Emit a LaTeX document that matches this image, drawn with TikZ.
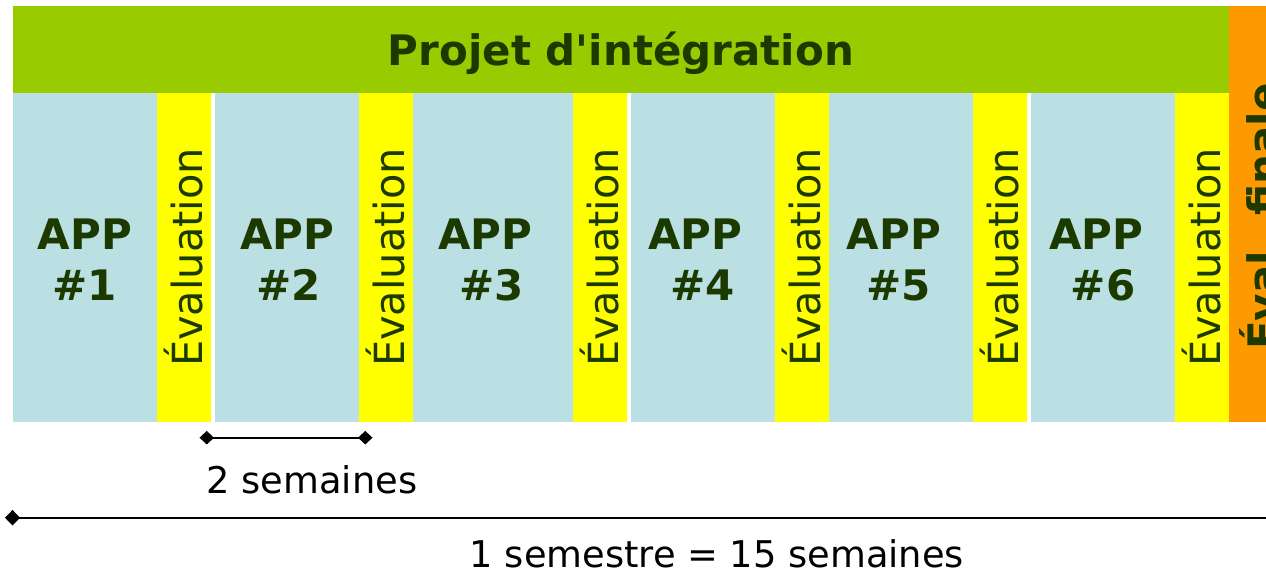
\documentclass[tikz,border=0pt]{standalone}
\usepackage{fontspec}
\setmainfont{DejaVu Sans}
\usetikzlibrary{arrows.meta}
\definecolor{bandgreen}{HTML}{99CC00}
\definecolor{appblue}{HTML}{BBE0E3}
\definecolor{evyellow}{HTML}{FFFF00}
\definecolor{finorange}{HTML}{FF9900}
\definecolor{darkgreentext}{HTML}{1C3A00}
\tikzset{
  block/.style={inner sep=0pt, outer sep=0pt, draw=none},
  appcol/.style={block, fill=appblue, minimum width=#1, minimum height=329pt},
  evcol/.style={block, fill=evyellow, minimum width=54pt, minimum height=329pt},
  apptext/.style={inner sep=0pt, text=darkgreentext, font=\fontsize{42}{50}\selectfont\bfseries},
  evtext/.style={inner sep=0pt, anchor=base, rotate=90, text=darkgreentext, font=\fontsize{41.5}{50}\selectfont},
  finaltext/.style={inner sep=0pt, anchor=base, rotate=90, text=darkgreentext, font=\fontsize{42}{50}\selectfont\bfseries},
  captext/.style={inner sep=0pt, anchor=base, text=black, font=\fontsize{36.8}{44}\selectfont},
  spanline/.style={line width=2.4pt, black},
  dia/.style={Diamond[length=15pt, width=14pt]}
}
\begin{document}
\begin{tikzpicture}[x=1pt,y=-1pt]
\useasboundingbox (0,0) rectangle (1266,578);
\clip (0,0) rectangle (1266,578);
\fill[white] (0,0) rectangle (1266,578);

% top band and final column
\node[block, fill=bandgreen, minimum width=1216pt, minimum height=87pt] (band) at (621,49.5) {};
\node[block, fill=finorange, minimum width=91pt, minimum height=416pt] (final) at (1274.5,214) {};

% columns
\node[appcol=144pt] (app1) at (85,257.5) {};
\node[evcol] (ev1) at (184,257.5) {};
\node[appcol=144pt] (app2) at (287,257.5) {};
\node[evcol] (ev2) at (386,257.5) {};
\node[appcol=160pt] (app3) at (493,257.5) {};
\node[evcol] (ev3) at (600,257.5) {};
\node[appcol=144pt] (app4) at (703,257.5) {};
\node[evcol] (ev4) at (802,257.5) {};
\node[appcol=144pt] (app5) at (901,257.5) {};
\node[evcol] (ev5) at (1000,257.5) {};
\node[appcol=144pt] (app6) at (1103,257.5) {};
\node[evcol] (ev6) at (1202,257.5) {};

% texts
\node[apptext, anchor=base] (title) at (621,66) {Projet d\textquotesingle intégration};

\node[apptext] (app1a) at (85,234) {APP};
\node[apptext] (app1b) at (84.5,285) {\#1};
\node[apptext] (app2a) at (287.5,234) {APP};
\node[apptext] (app2b) at (289,285) {\#2};
\node[apptext] (app3a) at (485.5,234) {APP};
\node[apptext] (app3b) at (492,285) {\#3};
\node[apptext] (app4a) at (695.5,234) {APP};
\node[apptext] (app4b) at (703,285) {\#4};
\node[apptext] (app5a) at (894,234) {APP};
\node[apptext] (app5b) at (899,285) {\#5};
\node[apptext] (app6a) at (1096.5,234) {APP};
\node[apptext] (app6b) at (1103,285) {\#6};

\node[evtext] (ev1t) at (202.5,257.5) {Évaluation};
\node[evtext] (ev2t) at (404.5,257.5) {Évaluation};
\node[evtext] (ev3t) at (618.5,257.5) {Évaluation};
\node[evtext] (ev4t) at (820.5,257.5) {Évaluation};
\node[evtext] (ev5t) at (1018.5,257.5) {Évaluation};
\node[evtext] (ev6t) at (1220.5,257.5) {Évaluation};

\node[finaltext] (finalt) at (1278,216.5) {Éval. finale};

% two-week span
\coordinate (twoA) at (199.5,437.7);
\coordinate (twoB) at (372.5,437.7);
\draw[spanline, {Diamond[length=14.5pt, width=13.5pt]}-{Diamond[length=14.5pt, width=13.5pt]}] (twoA) -- (twoB);
\node[captext] (twolbl) at (312,493) {2 semaines};

% semester span
\coordinate (semA) at (5,517.7);
\coordinate (semB) at (1300,517.7);
\draw[spanline, {Diamond[length=15pt, width=15.5pt]}-] (semA) -- (semB);
\node[captext] (semlbl) at (717,567) {1 semestre = 15 semaines};
\end{tikzpicture}
\end{document}
